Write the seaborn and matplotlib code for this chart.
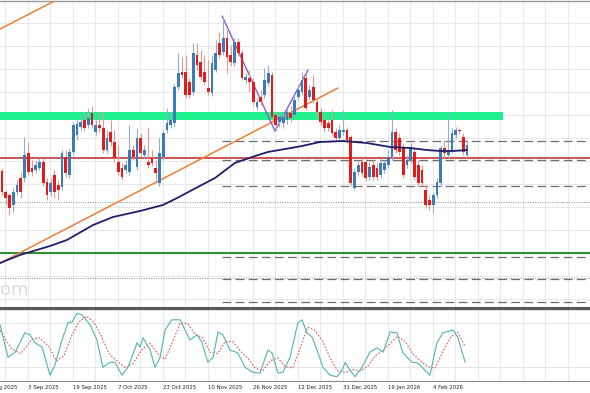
import numpy as np
import pandas as pd
import matplotlib
matplotlib.use("Agg")
import matplotlib.pyplot as plt
import matplotlib.transforms as mtransforms
import seaborn as sns

# daily candles (price units), bar 0 = 25 Aug 2025
opens = [137, 116, 113, 103, 116, 130, 130, 155, 140, 138, 140, 146, 126, 116, 133, 123,
         121, 151, 133, 156, 173, 181, 188, 183, 195, 176, 183, 180, 158, 176, 166, 146,
         140, 138, 136, 158, 141, 170, 153, 146, 150, 140, 125, 151, 178, 183, 185, 221,
         236, 236, 226, 216, 253, 246, 236, 220, 215, 238, 265, 256, 270, 253, 245, 266,
         255, 228, 230, 226, 201, 211, 213, 225, 233, 193, 186, 185, 188, 195, 193, 211,
         216, 230, 211, 221, 206, 196, 188, 185, 188, 176, 170, 176, 178, 171, 120, 136,
         146, 146, 131, 143, 140, 133, 138, 143, 151, 176, 170, 161, 143, 148, 156, 143,
         138, 118, 108, 103, 113, 125, 160, 153, 158, 173, 178, 171, 153]
closes = [116, 110, 100, 116, 123, 116, 153, 136, 136, 143, 146, 125, 113, 125, 116, 118,
          155, 135, 156, 183, 184, 186, 180, 190, 183, 183, 180, 158, 170, 166, 150, 136,
          131, 143, 158, 151, 170, 155, 158, 143, 145, 135, 155, 175, 185, 188, 221, 235,
          233, 213, 213, 255, 243, 231, 226, 216, 245, 255, 253, 270, 251, 246, 266, 255,
          230, 231, 226, 206, 206, 206, 228, 235, 191, 183, 191, 191, 196, 190, 208, 218,
          228, 200, 218, 208, 196, 186, 180, 180, 175, 170, 178, 178, 168, 125, 136, 143,
          135, 130, 141, 131, 131, 145, 145, 151, 176, 158, 156, 133, 148, 161, 131, 125,
          125, 103, 103, 113, 126, 160, 155, 158, 175, 178, 177, 156, 163]
highs = [140, 118, 115, 120, 128, 136, 171, 165, 148, 148, 150, 150, 130, 130, 138, 128,
         158, 158, 160, 186, 188, 193, 196, 200, 202, 188, 196, 196, 178, 188, 178, 163,
         145, 148, 183, 163, 180, 175, 163, 181, 158, 148, 170, 178, 200, 196, 224, 255,
         251, 253, 230, 265, 265, 258, 253, 248, 253, 268, 276, 290, 278, 263, 270, 270,
         258, 235, 238, 230, 210, 218, 240, 243, 236, 196, 196, 195, 200, 202, 213, 223,
         236, 236, 223, 233, 210, 200, 193, 188, 198, 180, 183, 198, 181, 173, 140, 148,
         150, 150, 146, 148, 145, 150, 148, 158, 198, 180, 175, 165, 153, 165, 160, 148,
         143, 123, 113, 116, 130, 163, 168, 196, 180, 181, 180, 175, 168]
lows = [113, 103, 93, 96, 113, 110, 126, 133, 132, 135, 138, 122, 108, 112, 110, 108,
        118, 131, 130, 153, 168, 178, 177, 180, 180, 173, 176, 155, 155, 162, 146, 133,
        128, 135, 133, 148, 138, 152, 150, 140, 142, 125, 122, 148, 175, 180, 182, 218,
        230, 210, 210, 213, 238, 228, 223, 213, 212, 236, 250, 253, 235, 242, 242, 252,
        228, 225, 216, 203, 198, 203, 210, 222, 188, 178, 181, 180, 184, 186, 190, 208,
        213, 198, 208, 205, 193, 183, 176, 177, 172, 167, 168, 173, 165, 122, 118, 132,
        132, 127, 128, 128, 128, 130, 135, 140, 148, 155, 153, 130, 140, 145, 128, 122,
        122, 100, 98, 95, 110, 122, 150, 150, 155, 170, 174, 153, 151]

# moving average (read points)
ma_bar = [-0.5, 4.8, 12.8, 17.3, 24.3, 29.6, 36.8, 42.9, 46.7, 50.7, 56.8, 62.1, 67.5,
          70.9, 75.5, 80.0, 84.8, 90.9, 97.3, 103.5, 108.8, 113.3, 116.8, 120.3, 124.0]
ma_val = [45, 53, 62, 68, 83, 91, 97, 103, 110, 118, 130, 145, 152,
          156, 159, 162, 166, 167, 165, 161, 160, 158, 157, 157, 158]

# stochastic %K / %D (read points)
k_bar = [-0.5, 1.6, 3.5, 6.1, 7.5, 8.8, 10.7, 12.8, 14.1, 16.0, 17.6, 18.7, 20.0, 21.3,
         23.5, 25.3, 26.9, 28.8, 30.1, 32.0, 33.6, 36.0, 36.8, 37.6, 39.5, 40.8, 42.1,
         43.5, 45.3, 47.5, 50.1, 52.0, 53.3, 54.9, 56.3, 57.6, 58.9, 60.8, 62.9, 64.8,
         66.9, 68.8, 70.9, 72.0, 73.6, 74.9, 76.8, 78.9, 80.0, 81.3, 82.7, 84.0, 85.6,
         87.5, 89.3, 90.7, 91.5, 92.8, 94.1, 96.0, 98.1, 100.0, 101.6, 103.5, 105.3,
         106.9, 109.3, 110.9, 112.8, 114.1, 116.0, 117.6, 120.3, 121.6, 123.5]
k_val = [78, 33, 40, 67, 64, 53, 47, 8, 22, 57, 81, 82, 94, 92,
         78, 57, 19, 26, 26, 8, 19, 53, 47, 60, 43, 19, 32,
         71, 85, 85, 57, 64, 54, 26, 33, 68, 64, 43, 39, 19,
         12, 11, 43, 39, 11, 12, 33, 81, 85, 67, 61, 43, 19,
         8, 6, 15, 26, 15, 6, 19, 40, 46, 40, 68, 67,
         39, 26, 25, 15, 8, 53, 67, 71, 60, 26]
d_bar = [-0.5, 2.5, 5.0, 8.0, 10.0, 12.5, 14.5, 16.5, 18.5, 20.5, 22.5, 24.5, 26.5, 28.5,
         31.0, 33.0, 35.0, 37.5, 39.5, 41.5, 43.5, 45.5, 47.5, 49.5, 51.5, 53.5, 55.5,
         57.5, 59.5, 61.5, 63.5, 65.5, 67.5, 69.5, 71.5, 73.5, 75.5, 77.5, 79.5, 81.5,
         83.5, 85.5, 87.5, 89.5, 91.5, 93.5, 95.5, 97.5, 99.5, 101.5, 103.5, 105.5,
         107.5, 109.5, 111.5, 113.5, 115.5, 117.5, 119.5, 121.5, 123.5]
d_val = [70, 45, 38, 58, 60, 48, 28, 35, 62, 82, 90, 82, 62, 38,
         26, 18, 25, 45, 52, 38, 30, 55, 80, 80, 65, 60, 40,
         38, 55, 55, 42, 32, 18, 14, 28, 32, 20, 18, 45, 75,
         70, 55, 32, 14, 12, 16, 14, 20, 35, 42, 52, 62,
         55, 38, 28, 20, 18, 40, 60, 68, 48]

# date labels
date_labels = ["18 Aug 2025", "3 Sep 2025", "19 Sep 2025", "7 Oct 2025", "23 Oct 2025",
               "10 Nov 2025", "26 Nov 2025", "12 Dec 2025", "31 Dec 2025", "19 Jan 2026",
               "4 Feb 2026"]
date_bars = [-5.1, 6.9, 18.9, 30.9, 42.9, 54.9, 66.9, 78.9, 90.9, 102.9, 114.9]

# drawn levels
zone_low, zone_high, zone_end = 188, 196, 133.6
red_level = 150
green_level = 55
dashed_levels = [167, 148, 122, 51, 29, 6]
dashed_start = 58.7
dotted_levels = [106, 30]
trend_lo_bar, trend_lo_val = [-0.5, 89.6], [45, 220]
trend_hi_bar, trend_hi_val = [-0.5, 14.5], [279, 308]
zig_bar, zig_val = [58.7, 72.8, 81.6], [292, 177, 238]

sns.set_style("white")
plt.rcParams['font.family'] = ['DejaVu Sans']

fig = plt.figure(figsize=(5.9, 3.93), dpi=100)
ax = fig.add_axes([0, 85 / 393, 1, 307 / 393])
ax2 = fig.add_axes([0, 12 / 393, 1, 72 / 393])

x_lo, x_hi = -0.533, 156.8
grid_x = np.arange(0.9, x_hi, 6)

for a in (ax, ax2):
    a.set_xlim(x_lo, x_hi)
    a.set_xticks(grid_x)
    a.grid(True, axis='x', color='#e4e4e4', lw=0.6)
    a.tick_params(which='major', length=0, labelbottom=False, labelleft=False)
    a.spines['left'].set_visible(False)
    a.spines['right'].set_visible(False)

ax.set_ylim(0, 307)
ax.set_yticks(np.arange(285, 0, -23))
ax.grid(True, axis='y', color='#e4e4e4', lw=0.6)
ax.spines['top'].set_color('#999999')
ax.spines['top'].set_linewidth(1)
ax.spines['bottom'].set_color('#5a5a5a')
ax.spines['bottom'].set_linewidth(2.2)

# levels
ax.fill_between([x_lo, zone_end], zone_low, zone_high, color='#1ef08e', lw=0, zorder=1)
ax.axhline(red_level, color='#c42424', lw=1.1, zorder=2)
ax.axhline(green_level, color='#2e8b2e', lw=1.4, zorder=2)
for lv in dashed_levels:
    ax.plot([dashed_start, x_hi], [lv, lv], color='#6e6e6e', lw=0.9,
            dashes=(7, 3.5), zorder=2)
for lv in dotted_levels:
    ax.axhline(lv, color='#8a8a8a', lw=0.7, ls=(0, (1, 1.5)), zorder=2)

# trendlines
ax.plot(trend_lo_bar, trend_lo_val, color='#e8803a', lw=1.1, zorder=3)
ax.plot(trend_hi_bar, trend_hi_val, color='#e8803a', lw=1.1, zorder=3)
ax.plot(zig_bar, zig_val, color='#8a5ed0', lw=1.0, zorder=3)

# candles
df = pd.DataFrame({'open': opens, 'high': highs, 'low': lows, 'close': closes})
df['bar'] = np.arange(len(df))
up = df['close'] >= df['open']
wick_col = np.where(up, '#8fb0d4', '#e29a8e')
body_col = np.where(up, '#3d7ab8', '#e21c1c')
ax.vlines(df['bar'], df['low'], df['high'], colors=wick_col, lw=0.8, zorder=4)
height = (df['close'] - df['open']).where(lambda s: s.abs() >= 1, 1)
ax.bar(df['bar'], height, bottom=df['open'], width=0.78, color=body_col, lw=0, zorder=5)

# moving average
sns.lineplot(x=ma_bar, y=ma_val, ax=ax, color='#1f1f6e', lw=1.3, estimator=None,
             sort=False, zorder=6)

ax.text(0, 18, "om", color='#dcdcdc', fontsize=13, ha='left', va='center',
        transform=mtransforms.blended_transform_factory(ax.transAxes, ax.transData))

# stochastic window
ax2.set_ylim(0, 100)
ax2.set_yticks([20, 80])
ax2.grid(True, axis='y', color='#e0e0e0', lw=0.6)
ax2.spines['top'].set_color('#5a5a5a')
ax2.spines['top'].set_linewidth(1)
ax2.spines['bottom'].set_color('#888888')
ax2.spines['bottom'].set_linewidth(0.8)
sns.lineplot(x=d_bar, y=d_val, ax=ax2, color='#e05a5a', lw=0.8, ls=(0, (1.5, 1.5)),
             estimator=None, sort=False)
sns.lineplot(x=k_bar, y=k_val, ax=ax2, color='#52b4b4', lw=0.8, estimator=None, sort=False)
ax2.set_xticks([b for b in date_bars if b > x_lo], minor=True)
ax2.tick_params(which='minor', length=3, color='#666666', width=0.7, direction='out')

trans = mtransforms.blended_transform_factory(ax2.transData, ax2.transAxes)
for b, lab in zip(date_bars, date_labels):
    ax2.text(b, -0.05, lab, transform=trans, ha='left', va='top', fontsize=3.9,
             color='#222222', clip_on=False)

fig.savefig("out.png", dpi=100)
